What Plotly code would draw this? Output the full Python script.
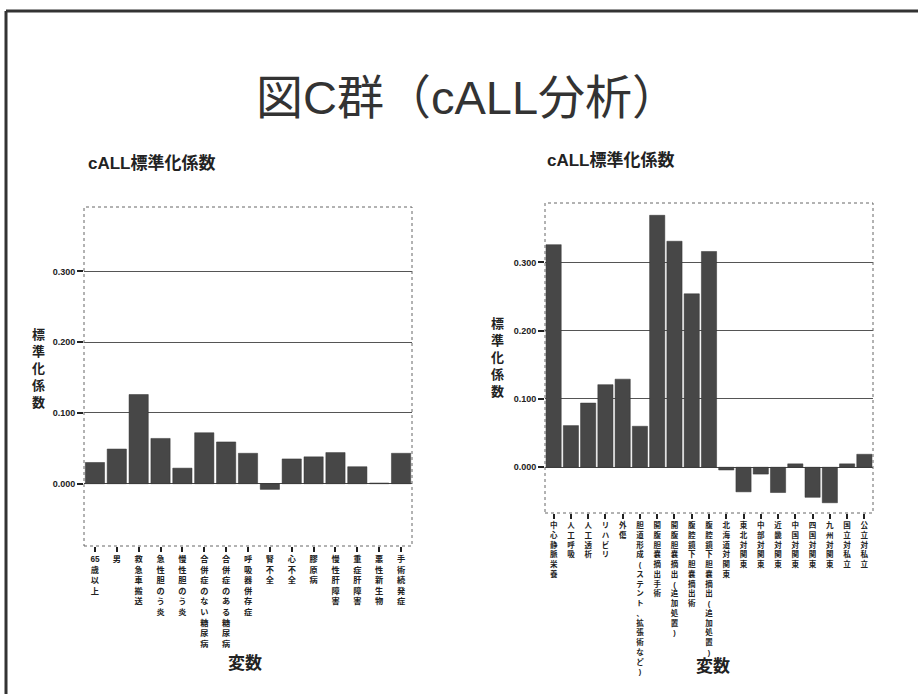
import plotly.graph_objects as go

# ---- data ----
left_categories = ["65歳以上", "男", "救急車搬送", "急性胆のう炎", "慢性胆のう炎",
                   "合併症のない糖尿病", "合併症のある糖尿病", "呼吸器併存症", "腎不全",
                   "心不全", "膠原病", "慢性肝障害", "重症肝障害", "悪性新生物", "手術続発症"]
left_values = [0.030, 0.049, 0.126, 0.064, 0.022, 0.072, 0.059, 0.043, -0.008,
               0.035, 0.038, 0.044, 0.024, 0.001, 0.043]

right_categories = ["中心静脈栄養", "人工呼吸", "人工透析", "リハビリ", "外傷",
                    "胆道形成(ステント、拡張術など)", "開腹胆嚢摘出手術", "開腹胆嚢摘出(追加処置)",
                    "腹腔鏡下胆嚢摘出術", "腹腔鏡下胆嚢摘出(追加処置)", "北海道対関東", "東北対関東",
                    "中部対関東", "近畿対関東", "中国対関東", "四国対関東", "九州対関東",
                    "国立対私立", "公立対私立"]
right_values = [0.326, 0.061, 0.094, 0.121, 0.129, 0.060, 0.369, 0.331, 0.254, 0.316,
                -0.004, -0.036, -0.010, -0.037, 0.005, -0.044, -0.052, 0.005, 0.019]

y_tickvals = [0.0, 0.1, 0.2, 0.3]
y_ticktext = ["0.000", "0.100", "0.200", "0.300"]

title_text = "図C群（cALL分析）"
sub_title = "cALL標準化係数"
y_title = "標準化係数"
x_title = "変数"

JP = "Liberation Sans, Noto Sans CJK JP"
W, H = 920, 694


def vert(s):
    parts, buf = [], ""
    for ch in s:
        if ch.isascii() and ch.isdigit():
            buf += ch
        else:
            if buf:
                parts.append(buf)
                buf = ""
            parts.append(ch)
    if buf:
        parts.append(buf)
    return "<br>".join(parts)


def px(x):
    return x / W


def py(y):
    return 1 - y / H


BAR = "#474747"

fig = go.Figure()
fig.add_trace(go.Bar(x=left_categories, y=left_values, marker=dict(color=BAR, line=dict(color="#333", width=0.5)),
                     xaxis="x", yaxis="y", showlegend=False))
fig.add_trace(go.Bar(x=right_categories, y=right_values, marker=dict(color=BAR, line=dict(color="#333", width=0.5)),
                     xaxis="x2", yaxis="y2", showlegend=False))

tickfont_y = dict(family="Liberation Sans, Arial", size=9, color="#222", weight="bold")

common_y = dict(tickvals=y_tickvals, ticktext=y_ticktext, showgrid=True, gridcolor="#555", gridwidth=1,
                zeroline=True, zerolinecolor="#444", zerolinewidth=1, ticks="outside", ticklen=6,
                tickwidth=2, tickcolor="#222", tickfont=tickfont_y, showline=False)

fig.update_layout(
    width=W, height=H, margin=dict(l=0, r=0, t=0, b=0),
    paper_bgcolor="white", plot_bgcolor="white", bargap=0.12,
    xaxis=dict(domain=[px(84), px(412)], anchor="y", tickmode="array", tickvals=left_categories,
               ticktext=[vert(c) for c in left_categories], tickangle=0,
               tickfont=dict(family=JP, size=8.2, color="#222", weight="bold"),
               ticks="outside", ticklen=5, tickwidth=2, tickcolor="#222", showgrid=False, showline=False),
    yaxis=dict(domain=[py(546), py(207)], anchor="x", range=[-0.088, 0.391], **common_y),
    xaxis2=dict(domain=[px(545), px(873)], anchor="y2", tickmode="array", tickvals=right_categories,
                ticktext=[vert(c) for c in right_categories], tickangle=0,
                tickfont=dict(family=JP, size=7.5, color="#222", weight="bold"),
                ticks="outside", ticklen=5, tickwidth=2, tickcolor="#222", showgrid=False, showline=False),
    yaxis2=dict(domain=[py(513), py(203)], anchor="x2", range=[-0.067, 0.387], **common_y),
)

shapes = []
for xr, yr in (("x domain", "y domain"), ("x2 domain", "y2 domain")):
    shapes.append(dict(type="rect", xref=xr, yref=yr, x0=0, x1=1, y0=0, y1=1,
                       line=dict(color="#666", width=1, dash="dot"), layer="above"))
# slide border (top and left)
shapes.append(dict(type="line", xref="paper", yref="paper", x0=px(6), x1=px(918), y0=py(11), y1=py(11),
                   line=dict(color="#333", width=3)))
shapes.append(dict(type="line", xref="paper", yref="paper", x0=px(6), x1=px(6), y0=py(11), y1=0,
                   line=dict(color="#333", width=3)))
fig.update_layout(shapes=shapes)

ann = []
ann.append(dict(text=title_text, x=px(467), y=py(97), xref="paper", yref="paper", showarrow=False,
                font=dict(family=JP, size=47, color="#333"), xanchor="center", yanchor="middle"))
for x0, y0 in ((86, 163), (545, 160)):
    ann.append(dict(text=sub_title, x=px(x0), y=py(y0), xref="paper", yref="paper", showarrow=False,
                    font=dict(family=JP, size=17, color="#222", weight="bold"), xanchor="left", yanchor="middle"))
for x0, y0 in ((38, 368), (497, 357)):
    ann.append(dict(text=vert(y_title), x=px(x0), y=py(y0), xref="paper", yref="paper", showarrow=False,
                    font=dict(family=JP, size=13, color="#222", weight="bold"), xanchor="center", yanchor="middle"))
for x0, y0 in ((245, 663), (713, 666)):
    ann.append(dict(text=x_title, x=px(x0), y=py(y0), xref="paper", yref="paper", showarrow=False,
                    font=dict(family=JP, size=17, color="#222", weight="bold"), xanchor="center", yanchor="middle"))
fig.update_layout(annotations=ann)

fig.write_html("out.html", config={"displayModeBar": False},
               post_script="document.body.style.margin='0';")
